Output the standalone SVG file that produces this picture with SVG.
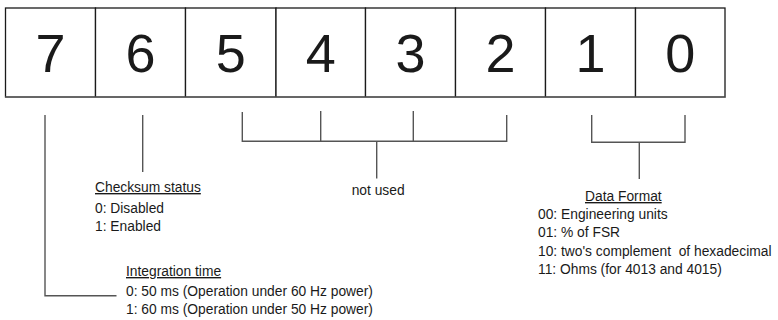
<svg xmlns="http://www.w3.org/2000/svg" width="778" height="320" viewBox="0 0 778 320">
<style>
.cell{fill:#fff;stroke:#1a1a1a;stroke-width:1.3}
.dig{font-family:"Liberation Sans",Arial,sans-serif;font-size:54px;fill:#1a1a1a;text-anchor:middle}
.lbl{font-family:"Liberation Sans",Arial,sans-serif;font-size:13.8px;fill:#1a1a1a}
.u{text-decoration:underline}
.con{fill:none;stroke:#555;stroke-width:1.4}
</style>
<rect width="778" height="320" fill="#fff"/>
<g id="bit7"><rect class="cell" x="5.5" y="8" width="90" height="89"/><text class="dig" x="50.5" y="72">7</text></g>
<g id="bit6"><rect class="cell" x="95.5" y="8" width="90" height="89"/><text class="dig" x="140.5" y="72">6</text></g>
<g id="bit5"><rect class="cell" x="185.5" y="8" width="90.5" height="89"/><text class="dig" x="230.7" y="72">5</text></g>
<g id="bit4"><rect class="cell" x="276" y="8" width="89.5" height="89"/><text class="dig" x="320.7" y="72">4</text></g>
<g id="bit3"><rect class="cell" x="365.5" y="8" width="90" height="89"/><text class="dig" x="410.5" y="72">3</text></g>
<g id="bit2"><rect class="cell" x="455.5" y="8" width="90" height="89"/><text class="dig" x="500.5" y="72">2</text></g>
<g id="bit1"><rect class="cell" x="545.5" y="8" width="90" height="89"/><text class="dig" x="590.5" y="72">1</text></g>
<g id="bit0"><rect class="cell" x="635.5" y="8" width="89.5" height="89"/><text class="dig" x="680.3" y="72">0</text></g>
<line x1="5" y1="97.3" x2="725.5" y2="97.3" stroke="#666" stroke-width="1.6"/>
<g id="connectors">
<polyline class="con" points="45,115 45,295.7 116.5,295.7"/>
<line class="con" x1="142.7" y1="115" x2="142.7" y2="172"/>
<polyline class="con" points="242.3,112 242.3,141.3 506.7,141.3 506.7,115"/>
<line class="con" x1="320.7" y1="111" x2="320.7" y2="141.3"/>
<line class="con" x1="413.3" y1="111" x2="413.3" y2="141.3"/>
<line class="con" x1="376.7" y1="141.3" x2="376.7" y2="178.5"/>
<polyline class="con" points="591.7,115 591.7,142.3 685,142.3 685,115"/>
<line class="con" x1="639.3" y1="142.3" x2="639.3" y2="179"/>
</g>
<g id="checksum">
<text class="lbl u" x="95" y="192">Checksum status</text>
<text class="lbl" x="95" y="212.5">0: Disabled</text>
<text class="lbl" x="95" y="230.5">1: Enabled</text>
</g>
<g id="notused"><text class="lbl" x="351.7" y="195">not used</text></g>
<g id="integration">
<text class="lbl u" x="126" y="276">Integration time</text>
<text class="lbl" x="126" y="296">0: 50 ms (Operation under 60 Hz power)</text>
<text class="lbl" x="126" y="314.3">1: 60 ms (Operation under 50 Hz power)</text>
</g>
<g id="dataformat">
<text class="lbl u" x="585" y="201">Data Format</text>
<text class="lbl" x="538" y="219">00: Engineering units</text>
<text class="lbl" x="538" y="237.3">01: % of FSR</text>
<text class="lbl" x="538" y="255.6" xml:space="preserve" style="white-space:pre">10: two's complement  of hexadecimal</text>
<text class="lbl" x="538" y="273.9">11: Ohms (for 4013 and 4015)</text>
</g>
</svg>
